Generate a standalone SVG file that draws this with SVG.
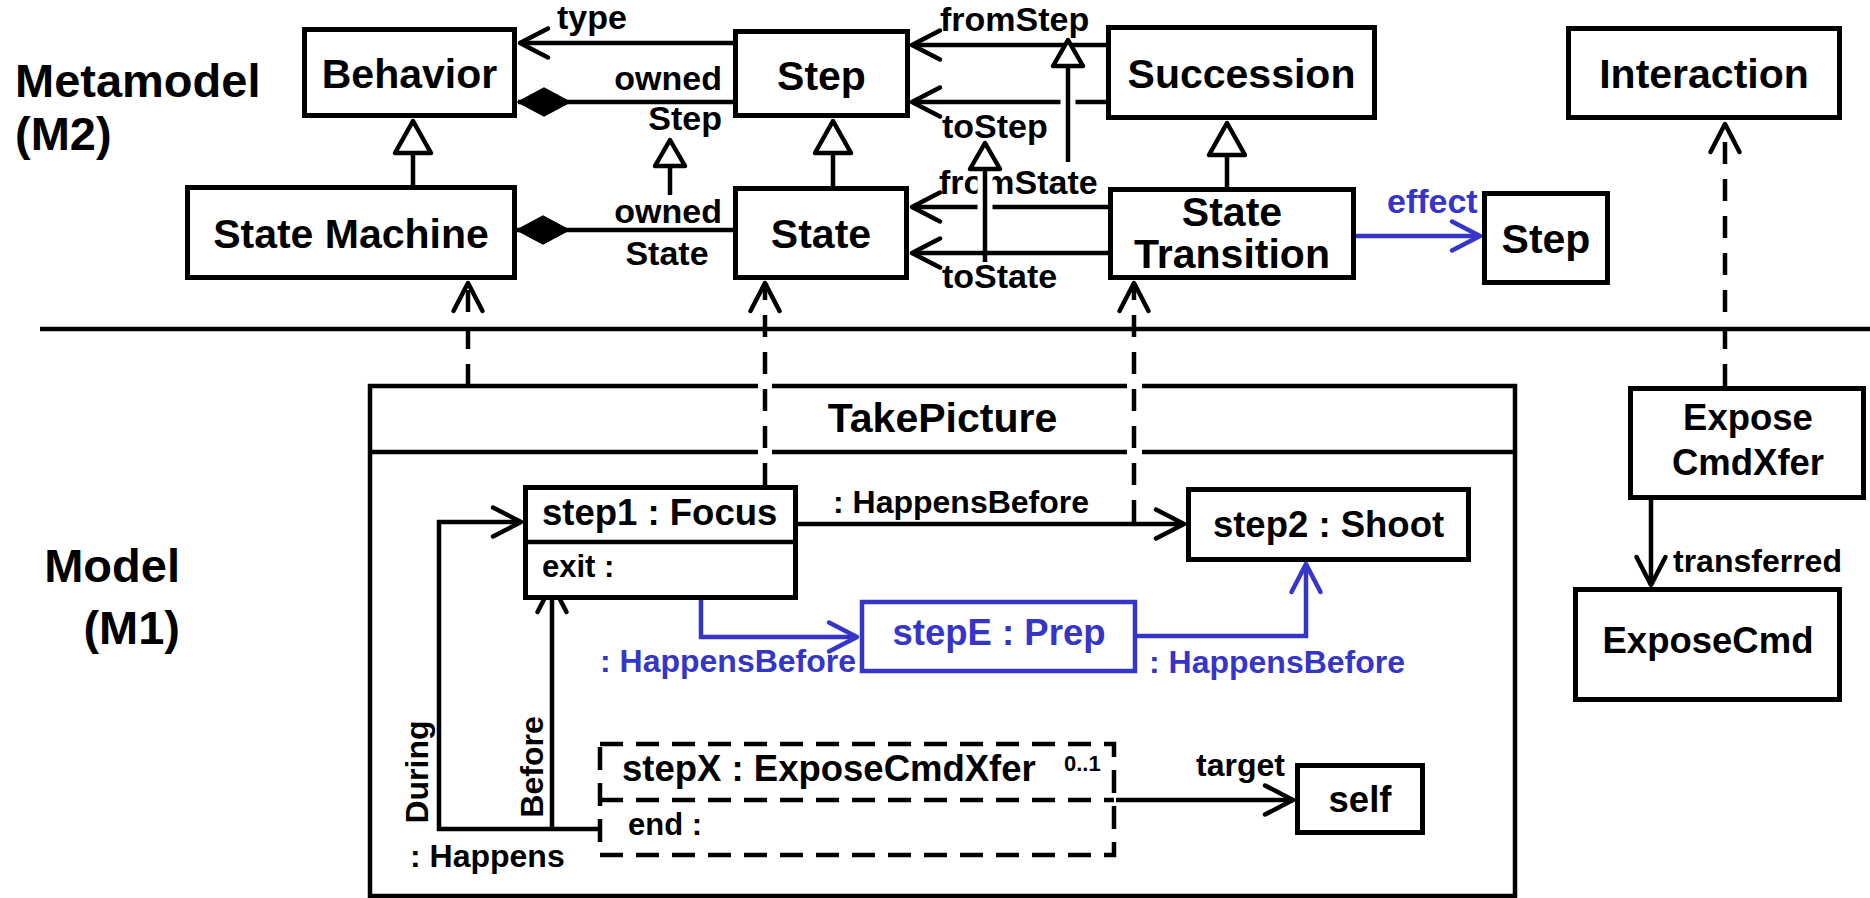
<svg xmlns="http://www.w3.org/2000/svg" width="1870" height="898" viewBox="0 0 1870 898">
<style>
text{font-family:"Liberation Sans",Arial,Helvetica,sans-serif;font-weight:bold;fill:#000}
.t46{font-size:47px}
.t41{font-size:41px}
.t36{font-size:36.5px}
.t34{font-size:34px}
.t32{font-size:32px}
.t31{font-size:31px}
.t20{font-size:22px}
.mid{text-anchor:middle}
.end{text-anchor:end}
.box{fill:#fff;stroke:#000;stroke-width:5}
.boxb{fill:#fff;stroke:#3535c8;stroke-width:4.5}
.boxd{fill:#fff;stroke:#000;stroke-width:4.5;stroke-dasharray:23 13}
.frame{fill:none;stroke:#000;stroke-width:4.5}
.ln{fill:none;stroke:#000;stroke-width:4.5}
.lnb{fill:none;stroke:#3535c8;stroke-width:4.5}
.dash{fill:none;stroke:#000;stroke-width:4.5;stroke-dasharray:22 15}
.dashd{fill:none;stroke:#000;stroke-width:4.5;stroke-dasharray:23 13}
text.blue{fill:#3535c8}
.halo{stroke:#fff;stroke-width:15;fill:none}
</style>
<defs>
<marker id="arr" markerUnits="userSpaceOnUse" viewBox="-36 -20 42 40" markerWidth="42" markerHeight="40" refX="0" refY="0" orient="auto">
<path d="M-28,-14.5 L0,0 L-28,14.5" fill="none" stroke="#000" stroke-width="4.5" stroke-linecap="round" stroke-linejoin="round"/>
</marker>
<marker id="arrB" markerUnits="userSpaceOnUse" viewBox="-36 -20 42 40" markerWidth="42" markerHeight="40" refX="0" refY="0" orient="auto">
<path d="M-28,-14.5 L0,0 L-28,14.5" fill="none" stroke="#3535c8" stroke-width="4.5" stroke-linecap="round" stroke-linejoin="round"/>
</marker>
<marker id="gen" markerUnits="userSpaceOnUse" viewBox="-38 -24 42 48" markerWidth="42" markerHeight="48" refX="0" refY="0" orient="auto">
<path d="M0,0 L-32,-18 L-32,18 Z" fill="#fff" stroke="#000" stroke-width="4.5" stroke-linejoin="round"/>
</marker>
<marker id="genS" markerUnits="userSpaceOnUse" viewBox="-32 -20 36 40" markerWidth="36" markerHeight="40" refX="0" refY="0" orient="auto">
<path d="M0,0 L-26,-15 L-26,15 Z" fill="#fff" stroke="#000" stroke-width="4.5" stroke-linejoin="round"/>
</marker>
<marker id="dia" markerUnits="userSpaceOnUse" viewBox="-56 -18 60 36" markerWidth="60" markerHeight="36" refX="0" refY="0" orient="auto">
<path d="M0,0 L-26,-14 L-52,0 L-26,14 Z" fill="#000" stroke="#000" stroke-width="1.5"/>
</marker>
</defs>

<rect width="1870" height="898" fill="#fff"/>

<!-- level labels and separator -->
<g id="levels">
<text class="t46" x="15" y="97">Metamodel</text>
<text class="t46" x="15" y="150">(M2)</text>
<text class="t46 end" x="180" y="582">Model</text>
<text class="t46 end" x="180" y="644">(M1)</text>
<path class="ln" d="M40,329 H1870" stroke-width="4"/>
</g>

<!-- TakePicture behavior frame (gaps where instance-of links cross) -->
<g id="take-picture">
<path class="frame" d="M758,386 H370 V896 H1515 V386 H1142 M1127,386 H772 M370,452 H758 M772,452 H1127 M1142,452 H1515"/>
<text class="t41 mid" x="942.5" y="432">TakePicture</text>
</g>

<g id="connectors">
<!-- metamodel associations -->
<path class="ln" d="M733,43 H520" marker-end="url(#arr)"/>
<path class="ln" d="M733,102 H518" marker-end="url(#dia)"/>
<path class="ln" d="M733,230 H517" marker-end="url(#dia)"/>
<path class="ln" d="M1106,45 H912" marker-end="url(#arr)"/>
<path class="ln" d="M1106,102 H912" marker-end="url(#arr)"/>
<path class="ln" d="M1108,207 H912" marker-end="url(#arr)"/>
<path class="ln" d="M1108,253 H912" marker-end="url(#arr)"/>
<path class="lnb" d="M1356,236 H1480" marker-end="url(#arrB)"/>

<text class="t34" x="557" y="29">type</text>
<text class="t34 end" x="722" y="90">owned</text>
<text class="t34 end" x="722" y="130">Step</text>
<text class="t34 end" x="722" y="223">owned</text>
<text class="t34 mid" x="667" y="265">State</text>
<text class="t34" x="940" y="31">fromStep</text>
<text class="t34" x="942" y="138">toStep</text>
<text class="t34" x="939" y="194">fromState</text>
<text class="t34" x="942" y="288">toState</text>
<text class="t34 blue" x="1387" y="213">effect</text>

<!-- generalizations -->
<path class="ln" d="M413,185 V121" marker-end="url(#gen)"/>
<path class="ln" d="M833,186 V121" marker-end="url(#gen)"/>
<path class="ln" d="M1227,187 V123" marker-end="url(#gen)"/>
<path class="ln" d="M670,195 V140" marker-end="url(#genS)"/>
<path class="halo" d="M1068,94 V110"/>
<path class="ln" d="M1068,162 V40" marker-end="url(#genS)"/>
<path class="halo" d="M985,172 V215"/>
<path class="ln" d="M985,262 V143" marker-end="url(#genS)"/>

<!-- instance-of links -->
<path class="dash" d="M468,386 V283" marker-end="url(#arr)"/>
<path class="dash" d="M765,485 V283" marker-end="url(#arr)"/>
<path class="dash" d="M1134,522 V283" marker-end="url(#arr)"/>
<path class="dash" d="M1725,386 V124" marker-end="url(#arr)"/>

<!-- model successions -->
<path class="ln" d="M798,524 H1184" marker-end="url(#arr)"/>
<text class="t32" x="833" y="513">: HappensBefore</text>
<path class="lnb" d="M701,600 V637 H857" marker-end="url(#arrB)"/>
<text class="t32 blue" x="600" y="672">: HappensBefore</text>
<path class="lnb" d="M1137,636 H1306 V564" marker-end="url(#arrB)"/>
<text class="t32 blue" x="1149" y="673">: HappensBefore</text>
<path class="ln" d="M622,829 H439 V522 H521" marker-end="url(#arr)"/>
<path class="ln" d="M552,829 V584" marker-end="url(#arr)"/>
<text class="t32 mid" transform="translate(428,772) rotate(-90)">During</text>
<text class="t32 mid" transform="translate(543,767) rotate(-90)">Before</text>
<text class="t32" x="410" y="867">: Happens</text>
<path class="ln" d="M1116,800 H1293" marker-end="url(#arr)"/>
<text class="t32" x="1196" y="776">target</text>
<path class="ln" d="M1651,500 V585" marker-end="url(#arr)"/>
<text class="t32" x="1673" y="572">transferred</text>
</g>

<!-- metamodel elements -->
<g id="behavior">
<rect class="box" x="304.5" y="29.5" width="210" height="86"/>
<text class="t41 mid" x="409.5" y="88">Behavior</text>
</g>
<g id="step">
<rect class="box" x="735.5" y="31.5" width="172" height="84"/>
<text class="t41 mid" x="821.5" y="90">Step</text>
</g>
<g id="succession">
<rect class="box" x="1108.5" y="27.5" width="266" height="90"/>
<text class="t41 mid" x="1241.5" y="88">Succession</text>
</g>
<g id="interaction">
<rect class="box" x="1568.5" y="28.5" width="271" height="89"/>
<text class="t41 mid" x="1704" y="88">Interaction</text>
</g>
<g id="state-machine">
<rect class="box" x="187.5" y="187.5" width="327" height="90"/>
<text class="t41 mid" x="351" y="248">State Machine</text>
</g>
<g id="state">
<rect class="box" x="735.5" y="188.5" width="171" height="89"/>
<text class="t41 mid" x="821" y="248">State</text>
</g>
<g id="state-transition">
<rect class="box" x="1110.5" y="189.5" width="243" height="88"/>
<text class="t41 mid" x="1232" y="226">State</text>
<text class="t41 mid" x="1232" y="268">Transition</text>
</g>
<g id="effect-step">
<rect class="box" x="1484.5" y="193.5" width="123" height="89"/>
<text class="t41 mid" x="1546" y="253">Step</text>
</g>

<!-- model elements -->
<g id="step1">
<rect class="box" x="525.5" y="487.5" width="270" height="110"/>
<path class="ln" d="M523,542 H798" stroke-width="5"/>
<text class="t36" x="542" y="525">step1 : Focus</text>
<text class="t31" x="542" y="577">exit :</text>
</g>
<g id="step2">
<rect class="box" x="1188.5" y="489.5" width="280" height="70"/>
<text class="t36 mid" x="1328.5" y="537">step2 : Shoot</text>
</g>
<g id="stepE">
<rect class="boxb" x="862" y="602" width="273" height="69"/>
<text class="t36 mid blue" x="999" y="645">stepE : Prep</text>
</g>
<g id="stepX">
<rect class="boxd" x="600" y="744" width="514" height="111" fill="none"/>
<path class="dashd" d="M600,800 H1114"/>
<text class="t36" x="622" y="781">stepX : ExposeCmdXfer</text>
<text class="t20" x="1064" y="771">0..1</text>
<text class="t31" x="628" y="835">end :</text>
</g>
<g id="self">
<rect class="box" x="1297.5" y="765.5" width="125" height="67"/>
<text class="t36 mid" x="1360" y="812">self</text>
</g>
<g id="expose-cmd-xfer">
<rect class="box" x="1630.5" y="388.5" width="233" height="109"/>
<text class="t36 mid" x="1748" y="430">Expose</text>
<text class="t36 mid" x="1748" y="475">CmdXfer</text>
</g>
<g id="expose-cmd">
<rect class="box" x="1575.5" y="589.5" width="264" height="110"/>
<text class="t36 mid" x="1708" y="653">ExposeCmd</text>
</g>
</svg>
